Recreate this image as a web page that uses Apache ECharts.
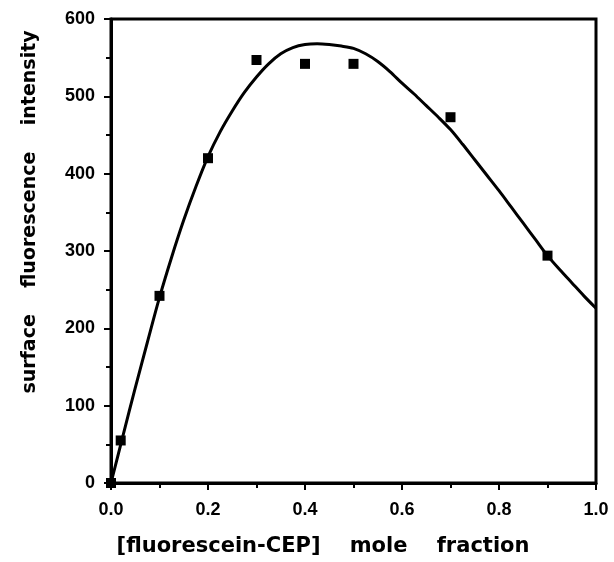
<!DOCTYPE html>
<html>
<head>
<meta charset="utf-8">
<script src="https://cdn.jsdelivr.net/npm/echarts@6/dist/echarts.min.js"></script>
<style>
html,body{margin:0;padding:0;background:#fff;}
#chart{width:614px;height:562px;}
</style>
</head>
<body>
<div id="chart"></div>
<script>
// measured points (square markers)
var moleFraction = [0, 0.02, 0.1, 0.2, 0.3, 0.4, 0.5, 0.7, 0.9];
var intensity = [0, 55, 242, 420, 547, 542, 542, 473, 294];

// fitted curve, every 0.025
var fitX = [0, 0.025, 0.05, 0.075, 0.1, 0.125, 0.15, 0.175, 0.2, 0.225, 0.25, 0.275, 0.3, 0.325, 0.35, 0.375, 0.4, 0.425, 0.45, 0.475, 0.5,
            0.525, 0.55, 0.575, 0.6, 0.625, 0.65, 0.675, 0.7, 0.725, 0.75, 0.775, 0.8, 0.825, 0.85, 0.875, 0.9, 0.925, 0.95, 0.975, 1.0];
var fitY = [0, 62, 123, 182, 240, 292, 340, 383, 422, 454, 481, 505, 525, 542, 555, 563, 567, 568, 567, 565, 562,
            555, 545, 532, 517, 503, 488, 473, 457, 438, 418, 398, 378, 357, 336, 315, 294, 276, 259, 242, 226];

var xTitle = '[fluorescein-CEP]    mole    fraction';
var yTitle = 'surface    fluorescence    intensity';

var chart = echarts.init(document.getElementById('chart'));

var pts = moleFraction.map(function (x, i) { return [x, intensity[i]]; });
var curve = fitX.map(function (x, i) { return [x, fitY[i]]; });

var labelFont = {
    color: '#000',
    fontFamily: 'Liberation Sans',
    fontWeight: 'bold',
    fontSize: 18
};

var option = {
    animation: false,
    backgroundColor: '#fff',
    grid: {
        left: 111, right: 18, top: 19, bottom: 79,
        show: true,
        borderColor: '#000',
        borderWidth: 3
    },
    xAxis: {
        type: 'value',
        min: 0, max: 1, interval: 0.2,
        axisLine: { lineStyle: { color: '#000', width: 3 } },
        axisTick: { show: true, length: 7, lineStyle: { color: '#000', width: 2 } },
        minorTick: { show: true, splitNumber: 2, length: 5, lineStyle: { color: '#000', width: 2 } },
        splitLine: { show: false },
        axisLabel: Object.assign({ margin: 18, formatter: function (v) { return v.toFixed(1); } }, labelFont)
    },
    yAxis: {
        type: 'value',
        min: 0, max: 600, interval: 100,
        axisLine: { show: true, lineStyle: { color: '#000', width: 3 } },
        axisTick: { show: true, length: 7, lineStyle: { color: '#000', width: 2 } },
        minorTick: { show: true, splitNumber: 2, length: 5, lineStyle: { color: '#000', width: 2 } },
        splitLine: { show: false },
        axisLabel: Object.assign({ margin: 16 }, labelFont)
    },
    graphic: [
        {
            type: 'text',
            x: 323, y: 547,
            style: {
                text: xTitle,
                fill: '#000',
                font: 'bold 21px "DejaVu Sans"',
                textAlign: 'center',
                textVerticalAlign: 'middle'
            }
        },
        {
            type: 'text',
            x: 30, y: 212,
            rotation: Math.PI / 2,
            style: {
                text: yTitle,
                fill: '#000',
                font: 'bold 19px "DejaVu Sans"',
                textAlign: 'center',
                textVerticalAlign: 'middle'
            }
        }
    ],
    series: [
        {
            type: 'line',
            data: curve,
            smooth: 0.3,
            showSymbol: false,
            lineStyle: { color: '#000', width: 3 },
            z: 2
        },
        {
            type: 'scatter',
            data: pts,
            symbol: 'rect',
            symbolSize: 10,
            clip: false,
            itemStyle: { color: '#000', opacity: 1 },
            z: 3
        }
    ]
};

chart.setOption(option);
</script>
</body>
</html>
